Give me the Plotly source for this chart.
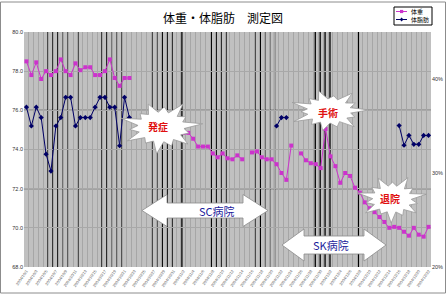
import math
import plotly.graph_objects as go

# ---------------- data ----------------
N_CATS = 83
weight = [78.5, 77.8, 78.45, 77.6, 78.0, 77.8, 78.0, 78.6, 78.0, 77.8,
          78.4, 78.05, 78.2, 78.2, 77.8, 77.8, 78.0, 78.6, 77.65, 77.25,
          77.65, 77.65, None, None, None, None, None, None, None, None,
          None, None, 74.85, 74.85, 74.55, 74.15, 74.15, 74.15, 73.8, 73.6,
          73.8, 73.55, 73.5, 73.7, 73.5, None, 73.85, 73.9, 73.6, 73.5,
          73.5, 73.25, 72.8, 72.45, 74.2, None, 73.8, 73.45, 73.3, 73.25,
          73.05, 75.05, 73.65, 73.15, 72.3, 72.8, 72.65, 72.05, 71.8, 71.3,
          71.0, 70.8, 70.55, 70.3, 70.0, 70.05, 70.0, 69.8, 69.6, 70.0,
          69.65, 69.55, 70.05]
body_fat = [37.0, 35.0, 37.0, 35.9, 32.0, 30.2, 35.0, 35.9, 38.05, 38.05,
            35.0, 35.9, 35.9, 35.9, 37.0, 38.05, 38.05, 37.0, 37.0, 32.9,
            38.05, 35.9] + [None] * 29 + [35.0, 35.9, 35.9] + [None] * 22 + \
           [35.05, 32.95, 34.0, 33.05, 33.05, 34.0, 34.0]
categories = list(range(N_CATS))
tick_cats = list(range(0, N_CATS, 2))
tick_labels = ["2004/10/1", "2004/10/3", "2004/10/5", "2004/10/7", "2004/10/9",
               "2004/10/11", "2004/10/13", "2004/10/15", "2004/10/17", "2004/10/19",
               "2004/10/21", "2004/10/23", "2004/10/25", "2004/10/27", "2004/10/29",
               "2004/10/31", "2004/11/2", "2004/11/4", "2004/11/6", "2004/11/8",
               "2004/11/10", "2004/11/12", "2004/11/14", "2004/11/16", "2004/11/18",
               "2004/11/20", "2004/11/22", "2004/11/24", "2004/11/26", "2004/11/28",
               "2004/11/30", "2004/12/2", "2004/12/4", "2004/12/6", "2004/12/8",
               "2004/12/10", "2004/12/12", "2004/12/14", "2004/12/16", "2004/12/18",
               "2004/12/20", "2004/12/22"]
dark_vlines = [4.4, 5.4, 6.4, 7.5, 8.5, 10.5, 15.4, 16.4, 17.5, 18.5, 19.5,
               25.6, 26.6, 27.7, 28.7, 29.7, 31.7, 37.7, 38.7, 39.7, 40.7,
               46.6, 47.7, 48.6, 49.6, 50.6, 58.9, 59.9, 60.9, 61.9, 67.7]
dark_hlines = [72, 74, 76]
legend_names = ["体重", "体脂肪"]
series_colors = ["#cc33cc", "#000066"]

# ---------------- geometry helpers (pixel -> paper) ----------------
PL, PR, PT, PB = 24, 431, 32, 267
W, H = 448, 296


def to_paper(px, py):
    return (px - PL) / (PR - PL), (PB - py) / (PB - PT)


def path_from(points):
    pts = [to_paper(x, y) for x, y in points]
    return "M " + " L ".join(f"{x:.4f},{y:.4f}" for x, y in pts) + " Z"


def burst(cx, cy, rx, ry, factors, inner=0.55, rot=0.0):
    n = len(factors)
    pts = []
    for k, f in enumerate(factors):
        a = 2 * math.pi * k / n + rot
        pts.append((cx + rx * f * math.cos(a), cy - ry * f * math.sin(a)))
        a2 = a + math.pi / n
        pts.append((cx + rx * inner * math.cos(a2), cy - ry * inner * math.sin(a2)))
    return path_from(pts)


def darrow(x1, x2, yc, hl, hh, bh):
    pts = [(x1, yc), (x1 + hl, yc - hh), (x1 + hl, yc - bh), (x2 - hl, yc - bh),
           (x2 - hl, yc - hh), (x2, yc), (x2 - hl, yc + hh), (x2 - hl, yc + bh),
           (x1 + hl, yc + bh), (x1 + hl, yc + hh)]
    return path_from(pts)


def text_at(px, py, text, font, xanchor="center"):
    xp, yp = to_paper(px, py)
    return dict(x=xp, y=yp, xref="paper", yref="paper", text=text, showarrow=False,
                xanchor=xanchor, yanchor="middle", font=font)


# ---------------- figure ----------------
fig = go.Figure()
fig.add_trace(go.Scatter(
    x=categories, y=weight, name=legend_names[0], mode="lines+markers",
    line=dict(color=series_colors[0], width=1),
    marker=dict(symbol="square", size=4, color=series_colors[0]),
))
fig.add_trace(go.Scatter(
    x=categories, y=body_fat, name=legend_names[1], mode="lines+markers", yaxis="y2",
    line=dict(color=series_colors[1], width=1),
    marker=dict(symbol="diamond", size=4, color=series_colors[1]),
))

shapes = []
for xv in dark_vlines:
    shapes.append(dict(type="line", xref="x", yref="y domain", x0=xv, x1=xv, y0=0, y1=1,
                       line=dict(color="#000000", width=1.3), layer="below"))
for yv in dark_hlines:
    shapes.append(dict(type="line", xref="x domain", yref="y", x0=0, x1=1, y0=yv, y1=yv,
                       line=dict(color="#000000", width=1), layer="below"))

burst_style = dict(type="path", xref="paper", yref="paper", fillcolor="white",
                   line=dict(color="#9a9a9a", width=0.8), layer="above")
shapes.append(dict(path=burst(161, 127, 42, 27,
                              [1.0, 0.7, 1.0, 0.75, 0.9, 0.7, 1.0, 0.75, 0.95, 0.7, 1.0, 0.75, 0.9, 0.7],
                              rot=0.12), **burst_style))
shapes.append(dict(path=burst(329, 111, 40, 22,
                              [1.0, 0.75, 1.0, 0.7, 0.95, 0.75, 1.0, 0.7, 1.0, 0.75, 0.9, 0.75, 0.95, 0.7],
                              rot=0.05), **burst_style))
shapes.append(dict(path=burst(392, 199, 35, 24,
                              [1.0, 0.75, 1.0, 0.7, 0.95, 0.75, 1.0, 0.75, 0.95, 0.7, 1.0, 0.75, 0.9, 0.75],
                              rot=0.2), **burst_style))

arrow_style = dict(type="path", xref="paper", yref="paper", fillcolor="white",
                   line=dict(color="#8a8a8a", width=0.8), layer="above")
shapes.append(dict(path=darrow(142, 268, 210.5, 25, 16, 7.5), **arrow_style))
shapes.append(dict(path=darrow(282, 386, 245, 22, 16, 9), **arrow_style))

# outer chart border
shapes.append(dict(type="rect", xref="paper", yref="paper",
                   x0=to_paper(0.5, 0)[0], x1=to_paper(445.5, 0)[0],
                   y0=to_paper(0, 293)[1], y1=to_paper(0, 2)[1],
                   line=dict(color="#8c8c8c", width=1), layer="above"))

# manual legend box
lb = (394, 7, 432, 25)
shapes.append(dict(type="rect", xref="paper", yref="paper",
                   x0=to_paper(lb[0], 0)[0], x1=to_paper(lb[2], 0)[0],
                   y0=to_paper(0, lb[3])[1], y1=to_paper(0, lb[1])[1],
                   fillcolor="white", line=dict(color="#000000", width=1), layer="above"))
annotations = []
for k, (name, col) in enumerate(zip(legend_names, series_colors)):
    yy = 11.5 + k * 8
    x0p, y0p = to_paper(396, yy)
    x1p, _ = to_paper(407, yy)
    shapes.append(dict(type="line", xref="paper", yref="paper", x0=x0p, x1=x1p, y0=y0p, y1=y0p,
                       line=dict(color=col, width=1), layer="above"))
    if k == 0:
        a0 = to_paper(400, yy - 1.6)
        a1 = to_paper(403.2, yy + 1.6)
        shapes.append(dict(type="rect", xref="paper", yref="paper", x0=a0[0], x1=a1[0],
                           y0=a1[1], y1=a0[1], fillcolor=col, line=dict(width=0), layer="above"))
    else:
        shapes.append(dict(type="path", xref="paper", yref="paper",
                           path=path_from([(401.6, yy - 2), (403.4, yy), (401.6, yy + 2), (399.8, yy)]),
                           fillcolor=col, line=dict(width=0), layer="above"))
    annotations.append(text_at(408.5, yy, name,
                               dict(family="Noto Sans CJK JP", size=6, color="#000000"),
                               xanchor="left"))

annotations.append(text_at(223, 18, "体重・体脂肪　測定図",
                           dict(family="Noto Sans CJK JP", size=12, color="#000000")))
for label, (px, py) in [("発症", (158, 126)), ("手術", (328, 112)), ("退院", (390, 198))]:
    annotations.append(text_at(px, py, "<b>" + label + "</b>",
                               dict(family="Noto Sans CJK JP", size=10, color="#e01010")))
for label, (px, py) in [("SC病院", (217, 210.5)), ("SK病院", (331, 245))]:
    annotations.append(text_at(px, py, label,
                               dict(family="Noto Sans CJK JP", size=11, color="#1c1c9c")))

fig.update_layout(
    width=W, height=H,
    margin=dict(l=PL, r=W - PR, t=PT, b=H - PB),
    paper_bgcolor="white", plot_bgcolor="#c0c0c0",
    showlegend=False,
    xaxis=dict(range=[-0.5, N_CATS - 0.5], tickmode="array", tickvals=tick_cats,
               ticktext=tick_labels, tickangle=-55, showgrid=False, zeroline=False,
               automargin=False, ticks="",
               tickfont=dict(family="Liberation Sans", size=4, color="#555555"),
               minor=dict(tick0=-0.5, dtick=1, showgrid=True, gridcolor="#a6a6a6", gridwidth=0.6)),
    yaxis=dict(range=[68, 80], dtick=2, tickformat=".1f", showgrid=True, gridcolor="#a8a8a8",
               zeroline=False, ticks="", automargin=False,
               tickfont=dict(family="Liberation Sans", size=5.5, color="#333333")),
    yaxis2=dict(range=[20, 45], overlaying="y", side="right", tickvals=[20, 30, 40],
                ticktext=["20%", "30%", "40%"], showgrid=False, zeroline=False, ticks="",
                automargin=False,
                tickfont=dict(family="Liberation Sans", size=5.5, color="#333333")),
    shapes=shapes, annotations=annotations,
)

fig.write_html("out.html")
